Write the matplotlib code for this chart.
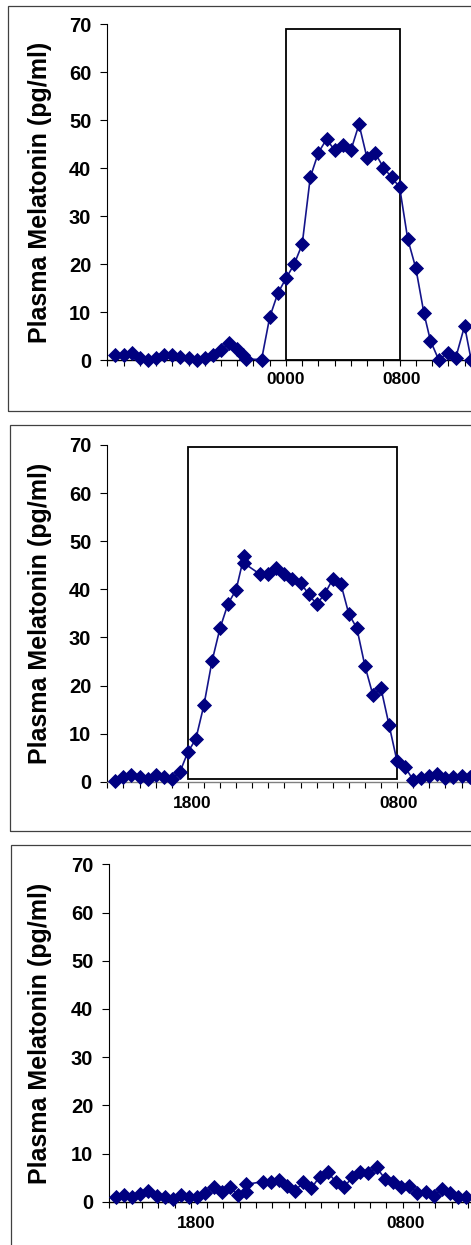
import matplotlib
matplotlib.use('Agg')
import matplotlib.pyplot as plt
from matplotlib.patches import Rectangle

plt.rcParams['font.family'] = ['Liberation Sans', 'DejaVu Sans']
plt.rcParams['font.weight'] = 'bold'

W, H = 471, 1245

# --- data: plasma melatonin (pg/ml) per sample, x = sample number ---
p1_x = [0, 1, 2, 3, 4, 5, 6, 7, 8, 9, 10, 11, 12, 13, 14, 15, 15.7, 16.1,
        18, 19, 20, 21, 22, 23, 24, 25, 26, 27, 28, 29, 30, 31, 32, 33, 34, 35,
        36, 37, 38, 38.8, 39.8, 40.9, 41.9, 43, 43.8]
p1_y = [1.0, 1.0, 1.5, 0.5, 0.0, 0.4, 1.1, 1.1, 0.7, 0.4, 0.0, 0.4, 1.0, 2.0, 3.5, 2.2, 1.0, 0.2,
        0.1, 8.9, 13.9, 17.0, 19.9, 24.1, 38.1, 43.2, 46.0, 43.7, 44.8, 43.7, 49.1, 42.0, 43.1, 40.1, 38.1, 36.0,
        25.2, 19.1, 9.7, 4.0, 0.1, 1.4, 0.4, 7.1, 0.1]

p2_x = [0, 1, 2, 3, 4, 5, 6, 7, 8, 9, 10, 11, 12, 13, 14, 15, 16, 16,
        18, 19, 20, 21, 22, 23, 24, 25, 26, 27, 28, 29, 30, 31, 32, 33, 34, 35,
        36, 37, 38, 39, 40, 41, 42, 43, 44]
p2_y = [0.2, 0.9, 1.4, 0.9, 0.55, 1.4, 0.9, 0.6, 1.95, 6.1, 8.9, 15.9, 25.0, 31.9, 37.0, 39.9, 47.0, 45.4,
        43.1, 43.1, 44.5, 43.1, 42.1, 41.4, 39.0, 36.9, 39.0, 42.1, 41.2, 34.9, 31.9, 24.1, 18.0, 19.4, 11.8, 4.2,
        3.0, 0.35, 0.8, 1.25, 1.5, 0.7, 1.0, 1.25, 1.0]

p3_x = [0, 1, 2, 3, 4, 5, 6, 7, 8, 9, 10, 11, 12, 13, 14, 15, 16, 16,
        18, 19, 20, 21, 22, 23, 24, 25, 26, 27, 28, 29, 30, 31, 32, 33, 34, 35,
        36, 37, 38, 39, 40, 41, 42, 43]
p3_y = [1.0, 1.4, 1.0, 1.55, 2.2, 1.2, 1.0, 0.6, 1.4, 1.0, 1.0, 1.9, 3.1, 2.0, 3.0, 1.4, 2.0, 3.6,
        4.15, 4.0, 4.5, 3.25, 2.3, 4.0, 2.8, 5.2, 6.1, 4.15, 3.0, 5.05, 6.1, 5.9, 7.1, 4.8, 4.0, 3.0,
        3.25, 1.9, 2.1, 1.2, 2.6, 1.9, 1.0, 0.9]

p1_labels = ['0000', '0800']
p1_label_x = [21.0, 35.2]
p2_labels = ['1800', '0800']
p2_label_x = [9.55, 35.2]
p3_labels = ['1800', '0800']
p3_label_x = [9.8, 35.6]

# dark period boxes (x from, x to, y from, y to)
p1_box = (21.0, 35.1, 0.0, 68.9)
p2_box = (9.0, 35.0, 0.5, 69.5)

yticks = [0, 10, 20, 30, 40, 50, 60, 70]
NAVY = '#000080'


def fig_rect(left, top, right, bottom):
    # pixel box (top-left origin) -> figure fraction
    return [left / W, 1 - bottom / H, (right - left) / W, (bottom - top) / H]


fig = plt.figure(figsize=(W / 100, H / 100), dpi=100)

# panel frames
for (l, t, r, b) in [(8, 6, 520, 410.7), (10, 425, 520, 830.7), (10.5, 844.7, 520, 1300)]:
    fig.add_artist(Rectangle((l / W, 1 - b / H), (r - l) / W, (b - t) / H,
                             transform=fig.transFigure, fill=False,
                             edgecolor='#404040', linewidth=0.9))


def panel(ax_left, ax_top, ax_bottom, ppu, x0, xs, ys, labels, label_x,
          label_pad, box=None, xspine_color='black'):
    x1 = x0 + 48
    ax = fig.add_axes(fig_rect(ax_left, ax_top, ax_left + (x1 - x0) * ppu, ax_bottom))
    ax.set_xlim(x0, x1)
    ax.set_ylim(0, 70)
    for s in ['top', 'right']:
        ax.spines[s].set_visible(False)
    ax.spines['left'].set_linewidth(0.8)
    ax.spines['bottom'].set_linewidth(1.0)
    ax.spines['bottom'].set_color(xspine_color)

    ax.set_yticks(yticks)
    ax.tick_params(axis='y', direction='out', length=5, width=0.8, pad=6.5,
                   labelsize=14.5)
    for t in ax.get_yticklabels():
        t.set_fontweight('bold')

    ax.xaxis.remove_overlapping_locs = False
    ax.set_xticks([x0 + 2 * k for k in range(25)])
    ax.tick_params(axis='x', which='major', direction='out', length=4.3,
                   width=0.8, labelbottom=False)
    ax.set_xticks(label_x, minor=True)
    ax.set_xticklabels(labels, minor=True, fontsize=12.5, fontweight='bold')
    ax.tick_params(axis='x', which='minor', length=0, pad=label_pad)

    if box is not None:
        bx0, bx1, by0, by1 = box
        ax.add_patch(Rectangle((bx0, by0), bx1 - bx0, by1 - by0, fill=False,
                               edgecolor='black', linewidth=1.3, zorder=2))

    ax.plot(xs, ys, color='#14148a', linewidth=1.2, marker='D', markersize=6.8,
            markerfacecolor=NAVY, markeredgecolor=NAVY, markeredgewidth=0.6,
            clip_on=False, zorder=3)

    ax.set_ylabel('Plasma Melatonin (pg/ml)', fontsize=18, fontweight='bold')
    width_px = (x1 - x0) * ppu
    ax.yaxis.set_label_coords((52 - ax_left) / width_px, 0.5)
    return ax


panel(107.3, 24, 360, 8.12, -1.0, p1_x, p1_y, p1_labels, p1_label_x, 8.5, p1_box)
panel(107.3, 445, 781.7, 8.05, -1.0, p2_x, p2_y, p2_labels, p2_label_x, 10.5, p2_box,
      xspine_color='#808080')
panel(109.3, 864.3, 1201.7, 8.15, -0.8, p3_x, p3_y, p3_labels, p3_label_x, 10.5)

fig.savefig('out.png', dpi=100)
